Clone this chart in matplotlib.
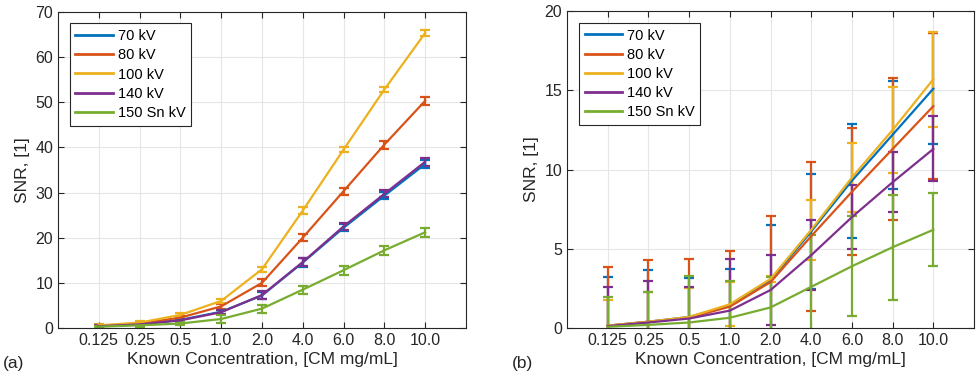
import numpy as np
import matplotlib.pyplot as plt
from matplotlib.lines import Line2D

plt.rcParams['font.family'] = ['Liberation Sans', 'DejaVu Sans']

# Data
conc_labels = ["0.125", "0.25", "0.5", "1.0", "2.0", "4.0", "6.0", "8.0", "10.0"]
series_names = ["70 kV", "80 kV", "100 kV", "140 kV", "150 Sn kV"]
colors = ["#0072BD", "#D95319", "#EDB120", "#7E2F8E", "#77AC30"]

# panel (a) mean SNR
snr_a_70 = [0.4, 0.8, 1.8, 3.6, 7.2, 14.5, 22.2, 29.3, 36.3]
snr_a_80 = [0.5, 1.0, 2.3, 4.8, 10.0, 20.0, 30.3, 40.6, 50.3]
snr_a_100 = [0.6, 1.2, 2.9, 6.0, 13.0, 26.0, 39.5, 52.8, 65.3]
snr_a_140 = [0.4, 0.8, 1.7, 3.5, 7.3, 14.6, 22.5, 29.7, 36.8]
snr_a_150 = [0.3, 0.6, 1.0, 2.0, 4.3, 8.5, 12.8, 17.2, 21.2]
# panel (a) error
err_a_70 = [0.2, 0.3, 0.4, 0.5, 0.8, 0.9, 0.8, 0.8, 0.9]
err_a_80 = [0.2, 0.3, 0.4, 0.5, 0.8, 0.8, 0.8, 0.9, 0.9]
err_a_100 = [0.2, 0.3, 0.4, 0.5, 0.6, 0.7, 0.6, 0.6, 0.6]
err_a_140 = [0.2, 0.3, 0.4, 0.5, 0.8, 0.8, 0.8, 0.8, 0.9]
err_a_150 = [0.2, 0.3, 0.4, 0.8, 0.9, 0.9, 1.0, 1.0, 1.0]

# panel (b) mean SNR
snr_b_70 = [0.15, 0.4, 0.7, 1.4, 3.0, 6.1, 9.3, 12.2, 15.1]
snr_b_80 = [0.15, 0.4, 0.65, 1.35, 2.9, 5.8, 8.6, 11.3, 14.0]
snr_b_100 = [0.15, 0.4, 0.7, 1.5, 3.1, 6.2, 9.5, 12.5, 15.7]
snr_b_140 = [0.12, 0.35, 0.6, 1.1, 2.4, 4.6, 7.0, 9.2, 11.3]
snr_b_150 = [0.08, 0.2, 0.35, 0.65, 1.3, 2.6, 3.9, 5.1, 6.2]
# panel (b) error
err_b_70 = [3.1, 3.25, 2.45, 2.3, 3.5, 3.65, 3.6, 3.4, 3.5]
err_b_80 = [3.7, 3.9, 3.7, 3.5, 4.15, 4.7, 4.0, 4.5, 4.6]
err_b_100 = [1.6, 1.9, 1.8, 1.4, 0.2, 1.9, 2.2, 2.7, 3.0]
err_b_140 = [2.5, 2.6, 2.0, 3.25, 2.2, 2.2, 2.0, 1.9, 2.05]
err_b_150 = [1.9, 2.1, 2.95, 2.3, 1.9, 3.3, 3.15, 3.3, 2.3]

snr_a = [snr_a_70, snr_a_80, snr_a_100, snr_a_140, snr_a_150]
err_a = [err_a_70, err_a_80, err_a_100, err_a_140, err_a_150]
snr_b = [snr_b_70, snr_b_80, snr_b_100, snr_b_140, snr_b_150]
err_b = [err_b_70, err_b_80, err_b_100, err_b_140, err_b_150]

x = np.arange(1, len(conc_labels) + 1)

fig = plt.figure(figsize=(9.76, 3.81), dpi=100)
ax1 = fig.add_axes([0.0594, 0.139, 0.418, 0.830])
ax2 = fig.add_axes([0.581, 0.139, 0.417, 0.832])


def draw_panel(ax, means, errs, ymax, yticks):
    for name, c, m, e in zip(series_names, colors, means, errs):
        ax.errorbar(x, m, yerr=e, color=c, lw=1.6, elinewidth=1.6,
                    capsize=3.5, capthick=1.6)
    ax.set_xlim(0, len(conc_labels) + 1)
    ax.set_ylim(0, ymax)
    ax.set_xticks(x)
    ax.set_xticklabels(conc_labels)
    ax.set_yticks(yticks)
    ax.grid(True, color="#e6e6e6", lw=0.8)
    ax.set_axisbelow(True)
    ax.tick_params(direction="in", top=True, right=True, labelsize=11.5,
                   colors="#262626", length=4)
    for s in ax.spines.values():
        s.set_color("#262626")
        s.set_linewidth(0.8)
    ax.set_xlabel("Known Concentration, [CM mg/mL]", fontsize=12.5, color="#262626",
                  labelpad=3)
    ax.set_ylabel("SNR, [1]", fontsize=12.5, color="#262626")
    handles = [Line2D([], [], color=c, lw=2) for c in colors]
    leg = ax.legend(handles, series_names, loc="upper left", fontsize=10.5,
                    handlelength=2.6, fancybox=False, framealpha=1,
                    edgecolor="#262626", borderaxespad=0.8, labelspacing=0.35,
                    handletextpad=0.3)
    leg.get_frame().set_linewidth(0.8)


draw_panel(ax1, snr_a, err_a, 70, np.arange(0, 71, 10))
draw_panel(ax2, snr_b, err_b, 20, np.arange(0, 21, 5))

fig.text(0.003, 0.035, "(a)", fontsize=12.5, color="#262626")
fig.text(0.524, 0.035, "(b)", fontsize=12.5, color="#262626")

fig.savefig("out.png", dpi=100)
